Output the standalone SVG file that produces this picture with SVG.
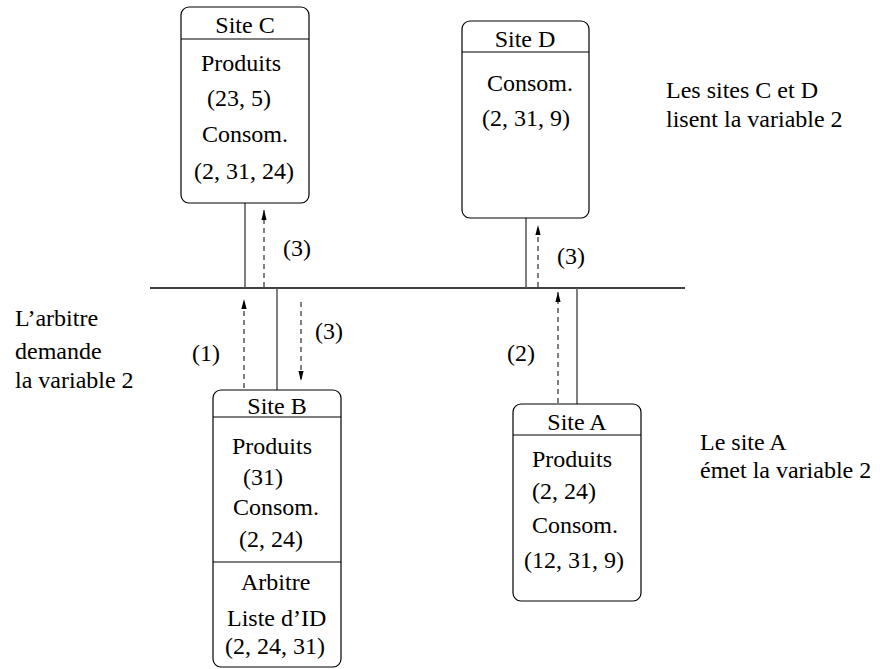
<svg xmlns="http://www.w3.org/2000/svg" width="880" height="669" viewBox="0 0 880 669">
<defs>
<marker id="ah" viewBox="0 0 10 10" refX="10" refY="5" markerWidth="10" markerHeight="10" markerUnits="userSpaceOnUse" orient="auto">
<path d="M0,2.4 L10,5 L0,7.6 Z" fill="#000"/>
</marker>
<style>
text{font-family:'Liberation Serif','Times New Roman',serif;font-size:24px;fill:#000}
.box{fill:#fff;stroke:#000;stroke-width:1.2}
.div{stroke:#000;stroke-width:1.2}
.wire{stroke:#555;stroke-width:1.5;fill:none}
.bus{stroke:#000;stroke-width:1.5}
.dash{stroke:#000;stroke-width:1;stroke-dasharray:5,4;fill:none;marker-end:url(#ah)}
.c{text-anchor:middle}
</style>
</defs>
<rect width="880" height="669" fill="#fff"/>
<g id="connectors">
<line class="bus" x1="150" y1="288" x2="685" y2="288"/>
<line class="wire" x1="245" y1="203" x2="245" y2="288"/>
<line class="wire" x1="526" y1="218" x2="526" y2="288"/>
<line class="wire" x1="277" y1="288" x2="277" y2="390"/>
<line class="wire" x1="577" y1="288" x2="577" y2="404"/>
<line class="dash" x1="264" y1="287" x2="264" y2="210"/>
<line class="dash" x1="538" y1="287" x2="538" y2="225"/>
<line class="dash" x1="244" y1="388" x2="244" y2="299"/>
<line class="dash" x1="301" y1="302" x2="301" y2="381"/>
<line class="dash" x1="558" y1="403" x2="558" y2="292"/>
<text x="283" y="256">(3)</text>
<text x="557" y="264">(3)</text>
<text x="315" y="339">(3)</text>
<text x="192" y="361">(1)</text>
<text x="507" y="361">(2)</text>
</g>
<g id="siteC">
<rect class="box" x="181" y="7" width="128" height="196" rx="8"/>
<line class="div" x1="181" y1="39" x2="309" y2="39"/>
<text class="c" x="245" y="33">Site C</text>
<text x="201" y="71">Produits</text>
<text x="207" y="106">(23, 5)</text>
<text x="202" y="142">Consom.</text>
<text x="194" y="179">(2, 31, 24)</text>
</g>
<g id="siteD">
<rect class="box" x="462" y="21" width="127" height="197" rx="8"/>
<line class="div" x1="462" y1="52" x2="589" y2="52"/>
<text class="c" x="525" y="47">Site D</text>
<text x="487" y="91">Consom.</text>
<text x="482" y="126">(2, 31, 9)</text>
</g>
<g id="siteB">
<rect class="box" x="213" y="390" width="128" height="277" rx="8"/>
<line class="div" x1="213" y1="417" x2="341" y2="417"/>
<line class="div" x1="213" y1="562" x2="341" y2="562"/>
<text class="c" x="277" y="414">Site B</text>
<text x="232" y="454">Produits</text>
<text x="243" y="485">(31)</text>
<text x="233" y="515">Consom.</text>
<text x="239" y="547">(2, 24)</text>
<text x="241" y="590">Arbitre</text>
<text x="227" y="626">Liste d’ID</text>
<text x="225" y="654">(2, 24, 31)</text>
</g>
<g id="siteA">
<rect class="box" x="513" y="404" width="128" height="197" rx="8"/>
<line class="div" x1="513" y1="435" x2="641" y2="435"/>
<text class="c" x="577" y="430">Site A</text>
<text x="532" y="467">Produits</text>
<text x="532" y="499">(2, 24)</text>
<text x="532" y="533">Consom.</text>
<text x="524" y="568">(12, 31, 9)</text>
</g>
<g id="notes">
<text x="15" y="326">L’arbitre</text>
<text x="15" y="359">demande</text>
<text x="15" y="388">la variable 2</text>
<text x="666" y="98">Les sites C et D</text>
<text x="666" y="127">lisent la variable 2</text>
<text x="700" y="450">Le site A</text>
<text x="700" y="478">émet la variable 2</text>
</g>
</svg>
